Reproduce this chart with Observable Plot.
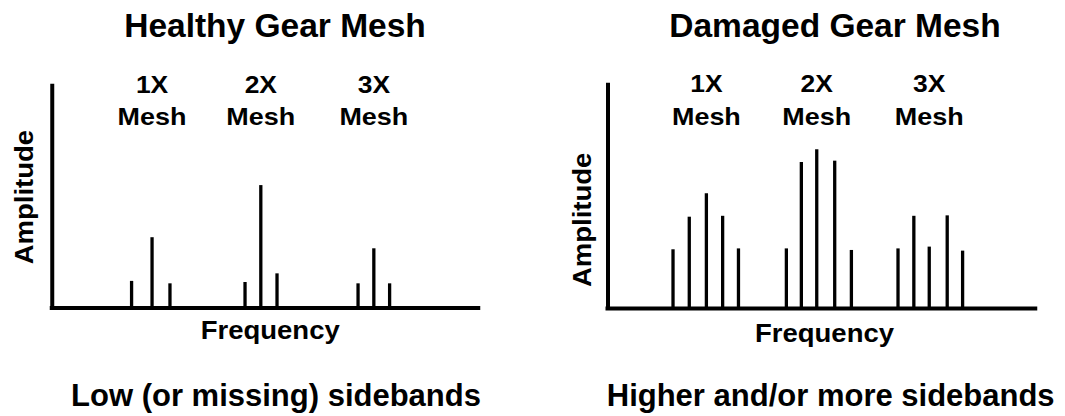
<!DOCTYPE html>
<html><head><meta charset="utf-8">
<script src="https://cdn.jsdelivr.net/npm/d3@7"></script>
<script src="https://cdn.jsdelivr.net/npm/@observablehq/plot@0.6"></script>
<style>
html,body{margin:0;padding:0;background:#fff;overflow:hidden}
#wrap{position:relative;width:1065px;height:416px;font-family:"Liberation Sans",Arial,Helvetica,sans-serif;color:#000}
.t{position:absolute;width:500px;text-align:center;font-weight:bold;white-space:nowrap}
.title{font-size:33.5px;line-height:33.5px;top:8.6px}
.cap{font-size:31px;line-height:31px;top:379.8px}
.panel{position:absolute;top:60px}
.panel svg{display:block;overflow:visible}
</style></head><body>
<div id="wrap"></div>
<script>
// ---- data ----
const panelTitles = ["Healthy Gear Mesh", "Damaged Gear Mesh"];
const panelCaptions = ["Low (or missing) sidebands", "Higher and/or more sidebands"];
const harmonicLabels = ["1X", "2X", "3X"];
const meshWord = "Mesh";
const xLabel = "Frequency";
const yLabel = "Amplitude";

const healthyFreq = [18.6, 23.4, 27.6, 45.2, 48.9, 52.7, 71.7, 75.4, 79.1];
const healthyAmp  = [12.0, 31.7, 10.9, 11.5, 55.2, 15.4, 10.9, 26.7, 10.9];
const healthyMeshFreq = [23.4, 48.9, 75.4];

const damagedFreq = [15.2, 19.0, 23.0, 26.8, 30.5, 41.7, 45.2, 48.8, 53.0, 56.9, 67.8, 71.5, 75.1, 79.3, 82.9];
const damagedAmp  = [26.3, 40.9, 51.4, 41.3, 26.7, 26.7, 65.4, 71.1, 66.0, 26.0, 26.7, 41.3, 27.5, 41.5, 25.7];
const damagedMeshFreq = [23.0, 48.8, 75.1];

// ---- rendering ----
const FONT = '"Liberation Sans", Arial, Helvetica, sans-serif';
const wrap = document.getElementById("wrap");

function addText(cls, txt, center) {
  const d = document.createElement("div");
  d.className = "t " + cls;
  d.textContent = txt;
  d.style.left = (center - 250) + "px";
  wrap.appendChild(d);
}

function panel(cfg) {
  const spec = cfg.freq.map((f, i) => ({freq: f, amp: cfg.amp[i]}));
  const labels = harmonicLabels.map((h, i) => ({freq: cfg.meshFreq[i], h}));
  const font = {fontFamily: FONT, fontWeight: "bold", fill: "#000"};
  return Plot.plot({
    width: cfg.width, height: 290,
    marginLeft: cfg.ml, marginRight: cfg.mr, marginTop: cfg.mt, marginBottom: cfg.mb,
    x: {domain: [0, 100], axis: null},
    y: {domain: [0, 100], axis: null},
    style: {fontFamily: FONT, background: "transparent", overflow: "visible"},
    marks: [
      Plot.ruleX(spec, {x: "freq", y1: 0, y2: "amp", stroke: "#000", strokeWidth: 3.3}),
      Plot.ruleX([0], {y1: 0, y2: 100, stroke: "#000", strokeWidth: 4, strokeLinecap: "square"}),
      Plot.ruleY([0], {x1: 0, x2: 100, stroke: "#000", strokeWidth: 4, strokeLinecap: "square"}),
      Plot.text(labels, {x: "freq", text: "h", frameAnchor: "top", textAnchor: "middle", lineAnchor: "bottom", dy: cfg.hDy, fontSize: 24, ...font}),
      Plot.text(labels, {x: "freq", text: () => meshWord, frameAnchor: "top", textAnchor: "middle", lineAnchor: "bottom", dy: cfg.mDy, fontSize: 24.5, ...font}),
      Plot.text([yLabel], {text: d => d, frameAnchor: "left", textAnchor: "middle", lineAnchor: "bottom", rotate: -90, dx: cfg.ayDx, dy: cfg.ayDy, fontSize: 25, ...font}),
      Plot.text([xLabel], {text: d => d, frameAnchor: "bottom", textAnchor: "middle", lineAnchor: "bottom", dx: cfg.fxDx, dy: cfg.fxDy, fontSize: 25, ...font})
    ]
  });
}

function stretch(svg, f) {
  svg.querySelectorAll("text").forEach(t => {
    const L = t.getComputedTextLength();
    t.setAttribute("textLength", (L * f).toFixed(2));
    t.setAttribute("lengthAdjust", "spacingAndGlyphs");
  });
}

const cfgs = [
  {freq: healthyFreq, amp: healthyAmp, meshFreq: healthyMeshFreq, left: 0, width: 530,
   ml: 51.75, mr: 51.75, mt: 25.75, mb: 42.5, hDy: 6.5, mDy: 38.5, ayDx: -19.75, ayDy: 0, fxDx: 4.7, fxDy: 30.5,
   titleC: 275, capC: 276},
  {freq: damagedFreq, amp: damagedAmp, meshFreq: damagedMeshFreq, left: 556, width: 509,
   ml: 51.5, mr: 29.75, mt: 24.75, mb: 42, hDy: 7, mDy: 39.75, ayDx: -17.5, ayDy: 23, fxDx: 2.6, fxDy: 33,
   titleC: 835, capC: 830.7}
];

cfgs.forEach((c, i) => {
  addText("title", panelTitles[i], c.titleC);
  addText("cap", panelCaptions[i], c.capC);
  const p = document.createElement("div");
  p.className = "panel";
  p.style.left = c.left + "px";
  const svg = panel(c);
  p.appendChild(svg);
  wrap.appendChild(p);
  stretch(svg, 1.1);
});
</script>
</body></html>
